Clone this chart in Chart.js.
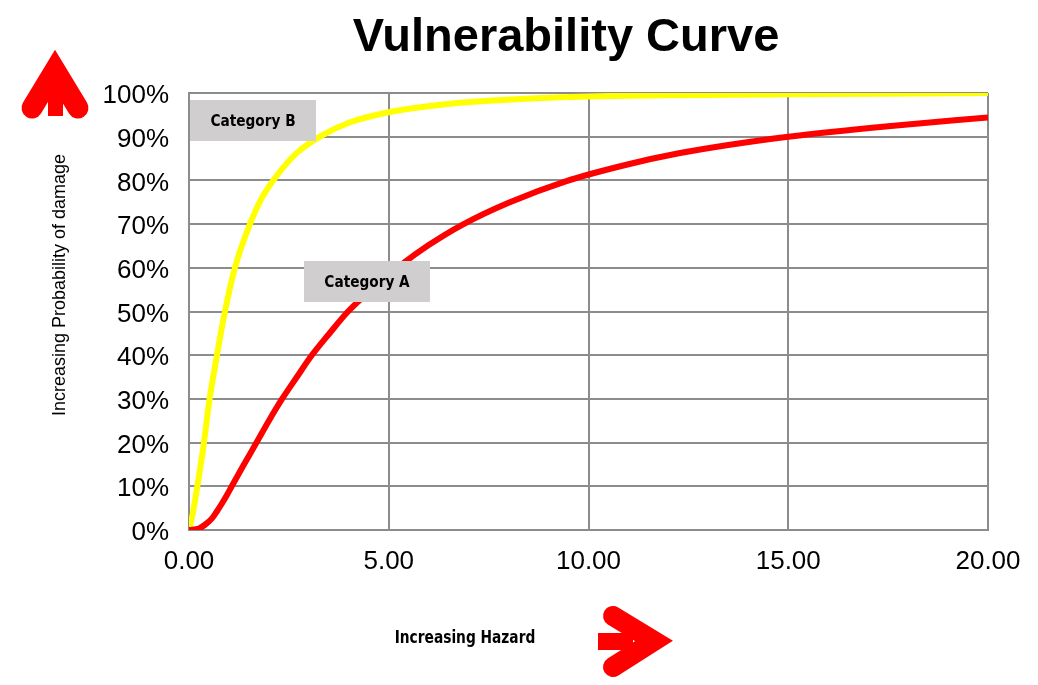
<!DOCTYPE html>
<html>
<head>
<meta charset="utf-8">
<script src="https://cdn.jsdelivr.net/npm/chart.js@4.4.1/dist/chart.umd.min.js"></script>
<style>
  html, body { margin: 0; padding: 0; background: #fff; }
  #wrap { position: relative; width: 1038px; height: 685px; }
</style>
</head>
<body>
<div id="wrap"><canvas id="vulnChart" width="1038" height="685"></canvas></div>
<script>
// values (hazard on x, probability of damage % on y)
const hazardA = [0, 0.25, 0.4, 0.57, 0.7, 0.82, 0.95, 1.07, 1.35, 1.69, 2.0, 2.31, 2.7, 3.06, 3.5, 3.98, 4.6, 5.3, 6.0, 6.85, 8.0, 9.43, 11.0, 12.26, 13.5, 15.0, 17.5, 20.0];
const damageA = [0, 0.35, 1.2, 2.6, 4.3, 6.0, 8.0, 10, 14.6, 20, 25, 29.7, 35, 39.8, 44.8, 50, 55.3, 60.6, 65.2, 69.9, 74.9, 79.8, 83.7, 86.2, 88.1, 90, 92.4, 94.4];

const hazardB = [0, 0.1, 0.19, 0.36, 0.5, 0.69, 0.9, 1.15, 1.56, 1.8, 2.19, 2.7, 3.31, 4.0, 5.0, 6.2, 7.5, 10.0, 15.0, 20.0];
const damageB = [0, 4, 9, 19, 29, 39.5, 50, 60, 70.8, 75.6, 81, 86.3, 90.2, 93.2, 95.6, 97.2, 98.2, 99.2, 99.7, 100];

const seriesNames = ["Category A", "Category B"];
const chartTitle = "Vulnerability Curve";
const xTitle = "Increasing Hazard";
const yTitle = "Increasing Probability of damage";

const toPoints = (xs, ys) => xs.map((x, i) => ({ x, y: ys[i] }));

const GRID = "#8c8c8c";
const LABEL_BG = "#d0cece";
const SANS = "'Liberation Sans', Arial, sans-serif";
const NARROW = "'Liberation Sans Narrow', 'DejaVu Sans Condensed', sans-serif";

// squeezed text, the reference uses a condensed face
const narrowText = (c, text, x, y, squeeze) => {
  c.save();
  c.translate(x, y);
  c.scale(squeeze, 1);
  c.fillText(text, 0, 0);
  c.restore();
};

// title, axis captions, series labels and the red arrows
const decorPlugin = {
  id: "decor",
  afterDraw(chart) {
    const c = chart.ctx;
    c.save();

    c.fillStyle = "#000";
    c.font = "bold 47px " + SANS;
    c.textAlign = "center";
    c.textBaseline = "alphabetic";
    c.fillText(chartTitle, 566, 51);

    c.font = "18px " + SANS;
    c.save();
    c.translate(60, 285);
    c.rotate(-Math.PI / 2);
    c.textBaseline = "middle";
    c.fillText(yTitle, 0, 0);
    c.restore();

    c.font = "bold 17px " + NARROW;
    c.textBaseline = "middle";
    narrowText(c, xTitle, 465, 639, 0.9);

    const boxes = [
      { text: seriesNames[1], x: 190, y: 100, w: 126, h: 41 },
      { text: seriesNames[0], x: 304, y: 261, w: 126, h: 41 },
    ];
    boxes.forEach((b) => {
      c.fillStyle = LABEL_BG;
      c.fillRect(b.x, b.y, b.w, b.h);
      c.fillStyle = "#000";
      c.font = "bold 16px " + NARROW;
      narrowText(c, b.text, b.x + b.w / 2, b.y + b.h / 2 + 1, 0.95);
    });

    // up arrow
    c.strokeStyle = "#ff0000";
    c.fillStyle = "#ff0000";
    c.lineCap = "round";
    c.lineJoin = "miter";
    c.lineWidth = 21;
    c.beginPath();
    c.moveTo(32, 108);
    c.lineTo(55, 70);
    c.lineTo(78, 108);
    c.stroke();
    c.fillRect(48, 90, 15, 26);

    // right arrow
    c.lineWidth = 20;
    c.beginPath();
    c.moveTo(613, 616);
    c.lineTo(654, 641);
    c.lineTo(613, 667);
    c.stroke();
    c.fillRect(598, 633, 35, 17);

    c.restore();
  },
};

new Chart(document.getElementById("vulnChart"), {
  type: "line",
  data: {
    datasets: [
      {
        label: seriesNames[0],
        data: toPoints(hazardA, damageA),
        borderColor: "#ff0000",
        borderWidth: 6,
        pointRadius: 0,
        cubicInterpolationMode: "monotone",
      },
      {
        label: seriesNames[1],
        data: toPoints(hazardB, damageB),
        borderColor: "#ffff00",
        borderWidth: 6,
        pointRadius: 0,
        cubicInterpolationMode: "monotone",
      },
    ],
  },
  options: {
    responsive: false,
    animation: false,
    layout: { padding: { top: 93, right: 50, bottom: 0, left: 0 } },
    plugins: {
      legend: { display: false },
      tooltip: { enabled: false },
      title: { display: false },
    },
    scales: {
      x: {
        type: "linear",
        min: 0,
        max: 20,
        afterFit: (s) => { s.height = 155; },
        ticks: {
          stepSize: 5,
          padding: 16,
          color: "#000",
          font: { family: SANS, size: 26 },
          callback: (v) => Number(v).toFixed(2),
        },
        grid: { color: GRID, lineWidth: 2, drawTicks: false },
        border: { color: GRID, width: 2 },
      },
      y: {
        min: 0,
        max: 100,
        afterFit: (s) => { s.width = 189; },
        ticks: {
          stepSize: 10,
          padding: 20,
          labelOffset: 3,
          color: "#000",
          font: { family: SANS, size: 26 },
          callback: (v) => v + "%",
        },
        grid: { color: GRID, lineWidth: 2, drawTicks: false },
        border: { color: GRID, width: 2 },
      },
    },
  },
  plugins: [decorPlugin],
});
</script>
</body>
</html>
